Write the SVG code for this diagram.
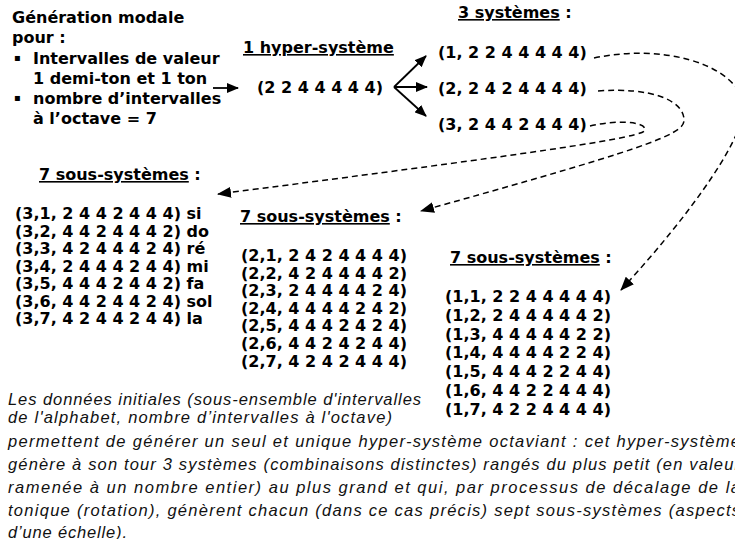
<svg xmlns="http://www.w3.org/2000/svg" width="735" height="539" viewBox="0 0 735 539">
<defs>
<style>
.b{font-family:"DejaVu Sans",Verdana,sans-serif;font-weight:bold;font-size:16px;fill:#000}
.bul{font-size:10px}
.u{text-decoration:underline}
.it{font-family:"Liberation Sans",Arial,sans-serif;font-style:italic;font-size:16.5px;fill:#111}
.dash{fill:none;stroke:#000;stroke-width:1.5;stroke-dasharray:6 4}
.solid{fill:none;stroke:#000;stroke-width:1.8}
</style>
<marker id="ah" viewBox="0 0 12 10" refX="11" refY="5" markerWidth="12" markerHeight="10" markerUnits="userSpaceOnUse" orient="auto">
<path d="M0,0 L12,5 L0,10 z" fill="#000"/>
</marker>
<marker id="ahd" viewBox="0 0 14 11" refX="13" refY="5.5" markerWidth="14" markerHeight="11" markerUnits="userSpaceOnUse" orient="auto">
<path d="M0,0 L14,5.5 L0,11 z" fill="#000"/>
</marker>
</defs>
<rect width="735" height="539" fill="#fff"/>

<g id="intro" class="b">
<text x="12" y="23">Génération modale</text>
<text x="12" y="43">pour :</text>
<text x="14" y="61" class="bul">▪</text>
<text x="33" y="64">Intervalles de valeur</text>
<text x="33" y="84">1 demi-ton et 1 ton</text>
<text x="14" y="101" class="bul">▪</text>
<text x="33" y="104">nombre d’intervalles</text>
<text x="33" y="124">à l’octave = 7</text>
</g>

<g id="hyper" class="b">
<text x="243" y="53" class="u">1 hyper-système</text>
<text x="257" y="93">(2 2 4 4 4 4 4)</text>
</g>

<g id="systemes-titre" class="b">
<text x="458" y="18"><tspan class="u">3 systèmes</tspan> :</text>
</g>
<g id="systeme-1" class="b"><text x="438" y="58">(1, 2 2 4 4 4 4 4)</text></g>
<g id="systeme-2" class="b"><text x="438" y="94">(2, 2 4 2 4 4 4 4)</text></g>
<g id="systeme-3" class="b"><text x="438" y="130">(3, 2 4 4 2 4 4 4)</text></g>

<g id="sous-systemes-3" class="b">
<text x="39" y="180"><tspan class="u">7 sous-systèmes</tspan> :</text>
<text x="15" y="219">(3,1, 2 4 4 2 4 4 4) si</text>
<text x="15" y="236.5">(3,2, 4 4 2 4 4 4 2) do</text>
<text x="15" y="254">(3,3, 4 2 4 4 4 2 4) ré</text>
<text x="15" y="271.5">(3,4, 2 4 4 4 2 4 4) mi</text>
<text x="15" y="289">(3,5, 4 4 4 2 4 4 2) fa</text>
<text x="15" y="306.5">(3,6, 4 4 2 4 4 2 4) sol</text>
<text x="15" y="324">(3,7, 4 2 4 4 2 4 4) la</text>
</g>

<g id="sous-systemes-2" class="b">
<text x="240" y="222"><tspan class="u">7 sous-systèmes</tspan> :</text>
<text x="241" y="261">(2,1, 2 4 2 4 4 4 4)</text>
<text x="241" y="278.6">(2,2, 4 2 4 4 4 4 2)</text>
<text x="241" y="296.2">(2,3, 2 4 4 4 4 2 4)</text>
<text x="241" y="313.8">(2,4, 4 4 4 4 2 4 2)</text>
<text x="241" y="331.4">(2,5, 4 4 4 2 4 2 4)</text>
<text x="241" y="349">(2,6, 4 4 2 4 2 4 4)</text>
<text x="241" y="366.6">(2,7, 4 2 4 2 4 4 4)</text>
</g>

<g id="sous-systemes-1" class="b">
<text x="450" y="263"><tspan class="u">7 sous-systèmes</tspan> :</text>
<text x="445" y="302">(1,1, 2 2 4 4 4 4 4)</text>
<text x="445" y="320.8">(1,2, 2 4 4 4 4 4 2)</text>
<text x="445" y="339.6">(1,3, 4 4 4 4 4 2 2)</text>
<text x="445" y="358.4">(1,4, 4 4 4 4 2 2 4)</text>
<text x="445" y="377.2">(1,5, 4 4 4 2 2 4 4)</text>
<text x="445" y="396">(1,6, 4 4 2 2 4 4 4)</text>
<text x="445" y="414.8">(1,7, 4 2 2 4 4 4 4)</text>
</g>

<g id="donnees" class="it">
<text x="8" y="405" textLength="413" lengthAdjust="spacing">Les données initiales (sous-ensemble d'intervalles</text>
<text x="8" y="423" textLength="384" lengthAdjust="spacing">de l'alphabet, nombre d’intervalles à l'octave)</text>
</g>

<g id="paragraphe" class="it">
<text x="8" y="447" textLength="732" lengthAdjust="spacing">permettent de générer un seul et unique hyper-système octaviant : cet hyper-système</text>
<text x="8" y="470" textLength="732" lengthAdjust="spacing">génère à son tour 3 systèmes (combinaisons distinctes) rangés du plus petit (en valeur</text>
<text x="8" y="493" textLength="732" lengthAdjust="spacing">ramenée à un nombre entier) au plus grand et qui, par processus de décalage de la</text>
<text x="8" y="515.5" textLength="732" lengthAdjust="spacing">tonique (rotation), génèrent chacun (dans ce cas précis) sept sous-systèmes (aspects</text>
<text x="8" y="537.5" textLength="119" lengthAdjust="spacing">d’une échelle).</text>
</g>

<g id="connecteurs">
<line class="solid" x1="213" y1="88" x2="238" y2="88" marker-end="url(#ah)"/>
<line class="solid" x1="394" y1="87" x2="426" y2="56" marker-end="url(#ah)"/>
<line class="solid" x1="394" y1="87" x2="427" y2="87" marker-end="url(#ah)"/>
<line class="solid" x1="394" y1="87" x2="426" y2="116" marker-end="url(#ah)"/>
<path class="dash" d="M594,58 C660,44 730,62 743,100 C752,130 690,215 621,290" marker-end="url(#ahd)"/>
<path class="dash" d="M598,91 C650,87 685,100 684,121 C683,135 640,150 421,211" marker-end="url(#ahd)"/>
<path class="dash" d="M590,126 C615,120 646,121 645,130 C644,137 560,150 218,194" marker-end="url(#ahd)"/>
</g>
</svg>
